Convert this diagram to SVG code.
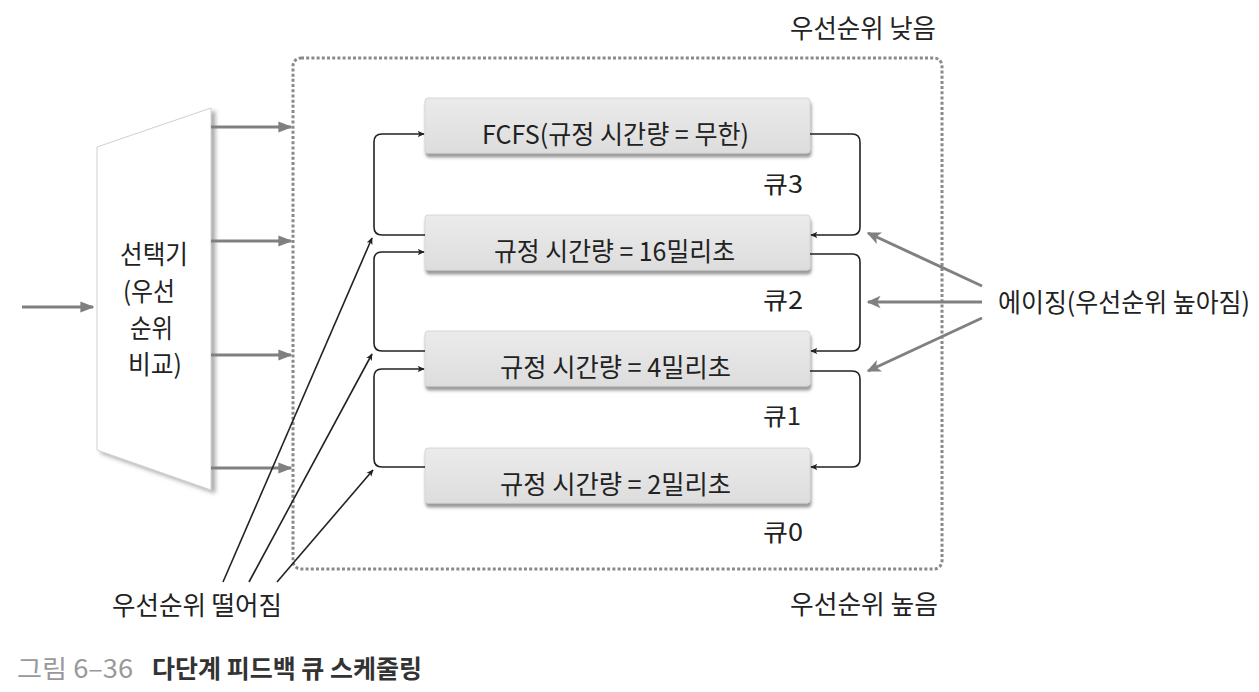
<svg xmlns="http://www.w3.org/2000/svg" width="1259" height="692" viewBox="0 0 1259 692">
<style>
text{font-family:"Noto Sans CJK KR","Noto Sans",sans-serif;fill:#222;}
.lbl{font-size:26px;}
.q{font-size:24px;}
.box{fill:url(#bg);stroke:#d6d6d6;stroke-width:1;filter:url(#sh);}
.blk{fill:none;stroke:#222;stroke-width:1.6;}
.gry{fill:none;stroke:#808080;stroke-width:3;}
.dot{fill:none;stroke:#8a8a8a;stroke-width:3;stroke-dasharray:3 2.2;}
</style>
<defs>
<linearGradient id="bg" x1="0" y1="0" x2="0" y2="1">
<stop offset="0" stop-color="#ebebeb"/><stop offset="1" stop-color="#dddddd"/>
</linearGradient>
<filter id="sh" x="-5%" y="-20%" width="115%" height="160%">
<feDropShadow dx="1" dy="4" stdDeviation="1.6" flood-color="#555" flood-opacity="0.6"/>
</filter>
<filter id="sh2" x="-20%" y="-10%" width="150%" height="130%">
<feDropShadow dx="4" dy="3" stdDeviation="2" flood-color="#666" flood-opacity="0.55"/>
</filter>
<marker id="ab" viewBox="0 0 10 10" refX="9" refY="5" markerWidth="7" markerHeight="7" markerUnits="userSpaceOnUse" orient="auto">
<path d="M0,0.5 L10,5 L0,9.5 L2.5,5 Z" fill="#222"/>
</marker>
<marker id="ag" viewBox="0 0 10 10" refX="9" refY="5" markerWidth="16" markerHeight="14" markerUnits="userSpaceOnUse" orient="auto">
<path d="M0,0.5 L10,5 L0,9.5 L2.5,5 Z" fill="#808080"/>
</marker>
<marker id="agt" viewBox="0 0 10 10" refX="9" refY="5" markerWidth="14" markerHeight="14" markerUnits="userSpaceOnUse" orient="auto">
<path d="M0,1 L10,5 L0,9 Z" fill="#808080"/>
</marker>
</defs>
<rect width="1259" height="692" fill="#fff"/>

<g id="frame">
<rect class="dot" x="293" y="58" width="649" height="511" rx="8"/>
<text class="lbl" x="790" y="38" textLength="146" lengthAdjust="spacingAndGlyphs">우선순위 낮음</text>
<text class="lbl" x="790" y="614" textLength="148" lengthAdjust="spacingAndGlyphs">우선순위 높음</text>
</g>

<g id="selector">
<polygon points="97,147 211,108 211,490 97,450" fill="#fff" stroke="#d0d0d0" stroke-width="1" filter="url(#sh2)"/>
<text class="lbl">
<tspan x="120" y="264" textLength="68" lengthAdjust="spacingAndGlyphs">선택기</tspan>
<tspan x="123" y="301" textLength="52" lengthAdjust="spacingAndGlyphs">(우선</tspan>
<tspan x="130" y="338" textLength="43" lengthAdjust="spacingAndGlyphs">순위</tspan>
<tspan x="128" y="374" textLength="54" lengthAdjust="spacingAndGlyphs">비교)</tspan>
</text>
</g>

<g id="queue3">
<rect class="box" x="425" y="98" width="385" height="55" rx="3"/>
<text class="lbl" x="482" y="144" textLength="267" lengthAdjust="spacingAndGlyphs">FCFS(규정 시간량 = 무한)</text>
<text class="q" x="763" y="193" textLength="40" lengthAdjust="spacingAndGlyphs">큐3</text>
</g>
<g id="queue2">
<rect class="box" x="425" y="215" width="385" height="55" rx="3"/>
<text class="lbl" x="494" y="261" textLength="241" lengthAdjust="spacingAndGlyphs">규정 시간량 = 16밀리초</text>
<text class="q" x="763" y="309" textLength="40" lengthAdjust="spacingAndGlyphs">큐2</text>
</g>
<g id="queue1">
<rect class="box" x="425" y="331" width="385" height="55" rx="3"/>
<text class="lbl" x="500" y="377" textLength="231" lengthAdjust="spacingAndGlyphs">규정 시간량 = 4밀리초</text>
<text class="q" x="763" y="425" textLength="38" lengthAdjust="spacingAndGlyphs">큐1</text>
</g>
<g id="queue0">
<rect class="box" x="425" y="448" width="385" height="55" rx="3"/>
<text class="lbl" x="500" y="494" textLength="231" lengthAdjust="spacingAndGlyphs">규정 시간량 = 2밀리초</text>
<text class="q" x="763" y="541" textLength="40" lengthAdjust="spacingAndGlyphs">큐0</text>
</g>

<g id="aging-label">
<text class="lbl" x="998" y="312" textLength="252" lengthAdjust="spacingAndGlyphs">에이징(우선순위 높아짐)</text>
</g>
<g id="drop-label">
<text class="lbl" x="112" y="615" textLength="170" lengthAdjust="spacingAndGlyphs">우선순위 떨어짐</text>
</g>
<g id="caption">
<text x="17" y="678" font-size="25" style="fill:#999" textLength="116" lengthAdjust="spacingAndGlyphs">그림 6–36</text>
<text x="152" y="678" font-size="25" font-weight="600" style="fill:#333" textLength="270" lengthAdjust="spacingAndGlyphs">다단계 피드백 큐 스케줄링</text>
</g>

<g id="connectors">
<line class="gry" x1="22" y1="307" x2="93" y2="307" marker-end="url(#agt)"/>
<line class="gry" x1="211" y1="127" x2="291" y2="127" stroke-width="4" marker-end="url(#agt)"/>
<line class="gry" x1="211" y1="241" x2="291" y2="241" stroke-width="4" marker-end="url(#agt)"/>
<line class="gry" x1="211" y1="355" x2="291" y2="355" stroke-width="4" marker-end="url(#agt)"/>
<line class="gry" x1="211" y1="468" x2="291" y2="468" stroke-width="4" marker-end="url(#agt)"/>
<path class="blk" d="M425,235 H382 Q374,235 374,227 V142 Q374,134 382,134 H424" marker-end="url(#ab)"/>
<path class="blk" d="M425,351 H382 Q374,351 374,343 V260 Q374,252 382,252 H424" marker-end="url(#ab)"/>
<path class="blk" d="M425,467 H382 Q374,467 374,459 V377 Q374,369 382,369 H424" marker-end="url(#ab)"/>
<path class="blk" d="M810,134 H852 Q860,134 860,142 V227 Q860,235 852,235 H811" marker-end="url(#ab)"/>
<path class="blk" d="M810,254 H852 Q860,254 860,262 V343 Q860,351 852,351 H811" marker-end="url(#ab)"/>
<path class="blk" d="M810,371 H852 Q860,371 860,379 V459 Q860,467 852,467 H811" marker-end="url(#ab)"/>
<line class="blk" x1="223" y1="582" x2="372" y2="238" marker-end="url(#ab)"/>
<line class="blk" x1="249" y1="582" x2="372" y2="354" marker-end="url(#ab)"/>
<line class="blk" x1="277" y1="582" x2="373" y2="470" marker-end="url(#ab)"/>
<line class="gry" x1="982" y1="286" x2="868" y2="233" marker-end="url(#ag)"/>
<line class="gry" x1="982" y1="302" x2="868" y2="302" marker-end="url(#ag)"/>
<line class="gry" x1="982" y1="318" x2="868" y2="371" marker-end="url(#ag)"/>
</g>
</svg>
